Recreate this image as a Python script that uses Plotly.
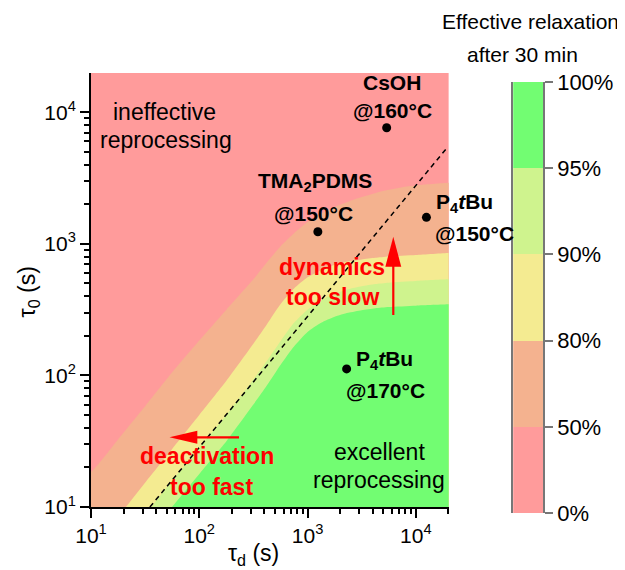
import plotly.graph_objects as go
import numpy as np

# effective-relaxation boundaries (tau_d in s, tau_0 in s)
b50_td = [10, 18, 32, 56, 100, 178, 316, 422, 562, 750, 1000, 1334, 1780, 2371, 3160, 4217, 5620, 7499, 10000, 20400]
b50_t0 = [18.5, 33, 59, 105, 184, 316, 537, 724, 955, 1202, 1462, 1698, 1905, 2089, 2265, 2427, 2570, 2692, 2786, 2917]

b80_td = [21, 32, 56, 100, 178, 316, 422, 562, 750, 1000, 1334, 1780, 2371, 3160, 4217, 5620, 10000, 20400]
b80_t0 = [10, 15.5, 27.5, 50, 91, 174, 245, 347, 457, 556, 631, 692, 733, 759, 782, 800, 822, 851]

b90_td = [36, 56, 100, 178, 316, 422, 562, 750, 1000, 1334, 1780, 2371, 3160, 4217, 5620, 10000, 20400]
b90_t0 = [10, 15.8, 28.2, 50, 93, 129, 182, 251, 316, 372, 417, 452, 476, 495, 507, 522, 537]

b95_td = [56, 100, 178, 316, 422, 562, 750, 1000, 1334, 1780, 2371, 3160, 4217, 5620, 10000, 20400]
b95_t0 = [10, 17.8, 31.6, 60, 84, 120, 166, 214, 251, 279, 299, 313, 324, 331, 339, 347]

# dashed guide line
guide_td = [35, 19000]
guide_t0 = [10, 5250]

# measured catalysts
pt_names = ["CsOH", "TMA2PDMS", "P4tBu 150", "P4tBu 170"]
pt_td = [5380, 1245, 12530, 2296]
pt_t0 = [7620, 1236, 1589, 112]

# colour bar
levels = ["0%", "50%", "80%", "90%", "95%", "100%"]
band_colors = ["#FF9B9B", "#F4B28F", "#F4EB91", "#CFF38E", "#72FD72"]

x_range = [1, 4.303]
y_range = [1, 4.298]

# page body has an 8px margin, so the figure is a little smaller than the window
OFF = 8
W, H = 617, 562
L, R, T, B = 83, 79, 65, 57


def pxx(x):
    return (x - OFF - L) / (W - L - R)


def pxy(y):
    return (H - B - (y - OFF)) / (H - T - B)


fig = go.Figure()

# background of the map = lowest band
fig.add_shape(type="rect", xref="x domain", yref="y domain", x0=0, x1=1, y0=0, y1=1,
              fillcolor=band_colors[0], line=dict(width=0), layer="below")

# filled regions, drawn from top band down
td_lo = 10 ** (x_range[0] - 0.05)
td_hi = 10 ** (x_range[1] + 0.05)
t0_lo = 10 ** (y_range[0] - 0.05)
bounds = [(b50_td, b50_t0), (b80_td, b80_t0), (b90_td, b90_t0), (b95_td, b95_t0)]
for (td, t0), col in zip(bounds, band_colors[1:]):
    xs = list(td) + [td_hi, td_hi]
    ys = list(t0) + [t0[-1], t0_lo]
    if td[0] <= 10:
        xs = [td_lo] + xs + [td_lo]
        ys = [t0[0]] + ys + [t0_lo]
    else:
        xs = xs + [td[0]]
        ys = ys + [t0_lo]
    fig.add_trace(go.Scatter(x=xs, y=ys, fill="toself", fillcolor=col, mode="lines",
                             line=dict(width=0, shape="spline", smoothing=0.6),
                             hoverinfo="skip", showlegend=False,
                             xaxis="x", yaxis="y"))

fig.add_trace(go.Scatter(x=guide_td, y=guide_t0, mode="lines",
                         line=dict(color="black", width=1.5, dash="5px,4px"),
                         showlegend=False, xaxis="x", yaxis="y"))

fig.add_trace(go.Scatter(x=pt_td, y=pt_t0, mode="markers", text=pt_names,
                         marker=dict(color="black", size=9),
                         showlegend=False, xaxis="x", yaxis="y"))

# colour bar as stacked bars
for col in band_colors:
    fig.add_trace(go.Bar(x=[0], y=[1], marker=dict(color=col, line=dict(width=0)),
                         width=1, showlegend=False, xaxis="x2", yaxis="y2", hoverinfo="skip"))

minor_vals = [m * 10 ** k for k in range(1, 5) for m in range(2, 10)]
fnt = "Arial, Liberation Sans"
axis_font = dict(family=fnt, size=21, color="black")
dec_text = ["10<sup>1</sup>", "10<sup>2</sup>", "10<sup>3</sup>", "10<sup>4</sup>"]

fig.update_layout(
    width=W, height=H,
    margin=dict(l=L, r=R, t=T, b=B),
    paper_bgcolor="white",
    plot_bgcolor="white",
    barmode="stack",
    bargap=0,
    showlegend=False,
    xaxis=dict(
        type="log", range=x_range, domain=[0, pxx(451)], anchor="y",
        tickvals=[10, 100, 1000, 10000], ticktext=dec_text,
        ticks="outside", ticklen=9, tickwidth=2, tickcolor="black",
        showline=True, linecolor="black", linewidth=2, showgrid=False, zeroline=False,
        tickfont=axis_font,
        minor=dict(tickvals=minor_vals, ticks="outside", ticklen=5, tickwidth=1.5,
                   tickcolor="black", showgrid=False),
    ),
    yaxis=dict(
        type="log", range=y_range, domain=[pxy(507), 1], anchor="x",
        tickvals=[10, 100, 1000, 10000], ticktext=dec_text,
        ticks="outside", ticklen=9, tickwidth=2, tickcolor="black",
        showline=True, linecolor="black", linewidth=2, showgrid=False, zeroline=False,
        tickfont=axis_font,
        minor=dict(tickvals=minor_vals, ticks="outside", ticklen=5, tickwidth=1.5,
                   tickcolor="black", showgrid=False),
    ),
    xaxis2=dict(domain=[pxx(516), 1], range=[-0.5, 0.5], anchor="y2",
                showticklabels=False, showgrid=False, zeroline=False, showline=False),
    yaxis2=dict(domain=[0, pxy(82)], range=[0, 5], anchor="x2", side="right",
                tickvals=list(range(6)), ticktext=levels,
                ticks="outside", ticklen=8, tickwidth=1.5, tickcolor="#777777",
                showline=True, mirror=True, linecolor="#777777", linewidth=1.5,
                showgrid=False, zeroline=False,
                tickfont=dict(family=fnt, size=22, color="black")),
)


def label(text, x, y, size=21, color="black", anchor="center", angle=0):
    fig.add_annotation(text=text, x=pxx(x), y=pxy(y), xref="paper", yref="paper",
                       xanchor=anchor, yanchor="middle", showarrow=False, textangle=angle,
                       font=dict(family=fnt, size=size, color=color))


label("ineffective", 165, 112, 23)
label("reprocessing", 166, 140, 23)
label("excellent", 381, 452, 23)
label("reprocessing", 381, 480, 23)

label("<b>CsOH</b>", 394, 82)
label("<b>@160°C</b>", 394, 110)
label("<b>TMA<sub>2</sub>PDMS</b>", 316, 182)
label("<b>@150°C</b>", 315, 213)
label("<b>P<sub>4</sub><i>t</i>Bu</b>", 436, 203, anchor="left")
label("<b>@150°C</b>", 435, 233, anchor="left")
label("<b>P<sub>4</sub><i>t</i>Bu</b>", 356, 360, anchor="left")
label("<b>@170°C</b>", 346, 390, anchor="left")

red = "#FF0000"
label("<b>dynamics</b>", 334, 267, 23, red)
label("<b>too slow</b>", 334, 297, 23, red)
label("<b>deactivation</b>", 208, 456, 23, red)
label("<b>too fast</b>", 212, 487, 23, red)

label("Effective relaxation", 533, 22, 21)
label("after 30 min", 525, 55, 21)

label("τ<sub>d</sub> (s)", 255, 554, 23)
label("τ<sub>0</sub> (s)", 28, 292, 23, angle=-90)


def path(points):
    return "M " + " L ".join(f"{pxx(a):.5f},{pxy(b):.5f}" for a, b in points) + " Z"


# up arrow
fig.add_shape(type="line", xref="paper", yref="paper",
              x0=pxx(395.3), y0=pxy(315), x1=pxx(395.3), y1=pxy(262),
              line=dict(color=red, width=2.2))
fig.add_shape(type="path", xref="paper", yref="paper",
              path=path([(387.3, 266.7), (403.3, 266.7), (395.3, 236.7)]),
              fillcolor=red, line=dict(width=0))
# left arrow
fig.add_shape(type="line", xref="paper", yref="paper",
              x0=pxx(240), y0=pxy(437.3), x1=pxx(194), y1=pxy(437.3),
              line=dict(color=red, width=2.2))
fig.add_shape(type="path", xref="paper", yref="paper",
              path=path([(198, 430.8), (198, 443.8), (170, 437.3)]),
              fillcolor=red, line=dict(width=0))

fig.write_html("out.html")
